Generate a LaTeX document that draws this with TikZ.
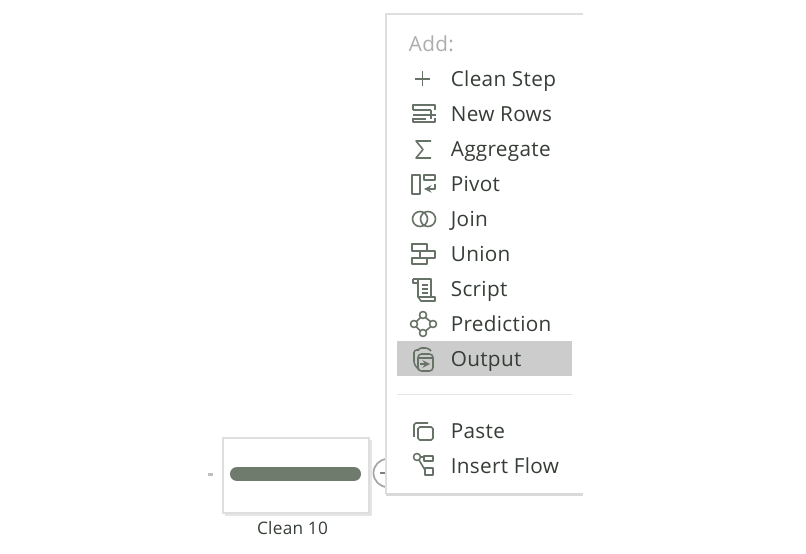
\documentclass[tikz,border=0pt]{standalone}
\usepackage{fontspec}
\setmainfont[LetterSpace=1.5]{Open Sans}
\usepackage{xcolor}
\definecolor{menutext}{HTML}{363D37}
\definecolor{menuicon}{HTML}{667366}
\definecolor{barcolor}{HTML}{6F7B6C}
\definecolor{edgegray}{HTML}{DEDEDE}
\tikzset{
  menuitem/.style={anchor=west,inner sep=0pt,text height=11pt,text depth=3pt,font=\fontsize{11.8}{13}\selectfont,text=menutext},
  icon/.style={draw=menuicon,line width=0.9pt,line join=round},
}
\begin{document}
\begin{tikzpicture}[x=0.02cm,y=-0.02cm]
\useasboundingbox (0,0) rectangle (806,554);

% step on the canvas
\fill[color=black!25] (208,473) rectangle (213,476);
\draw [line width=1.2pt, black!10] (225,514.5) -- (370.5,514.5) -- (370.5,440);
\draw [line width=1.4pt, edgegray] (223,438) rectangle (369,513);
\draw [line width=8pt, line cap=round, barcolor] (237,474) -- (354,474);
\node [anchor=base,inner sep=0pt,font=\fontsize{9.8}{12}\selectfont,text=menutext] (stepname) at (292.5,535) {Clean 10};
\draw [line width=1pt, black!35] (387.5,473) circle (14);
\draw [line width=0.8pt, black!50] (380,473) -- (394,473);

% menu panel, open on the right
\fill [white] (386,14) rectangle (583,494);
\draw [line width=0.8pt, edgegray] (583,14) -- (386,14) -- (386,494);
\draw [line width=1.2pt, black!15] (386,494.5) -- (583,494.5);
\fill [black!20] (397,341) rectangle (572,376);
\draw [line width=0.5pt, black!10] (397,394) -- (572,394);

\node [menuitem,text=black!32] (addtitle) at (408.5,44) {Add:};
\node [menuitem] (cleanstep) at (450.5,79) {Clean Step};
\node [menuitem] (newrows) at (450.5,114) {New Rows};
\node [menuitem] (aggregate) at (450.5,149) {Aggregate};
\node [menuitem] (pivot) at (450.5,184) {Pivot};
\node [menuitem] (join) at (450.5,219) {Join};
\node [menuitem] (union) at (450.5,254) {Union};
\node [menuitem] (script) at (450.5,289) {Script};
\node [menuitem] (prediction) at (450.5,324) {Prediction};
\node [menuitem] (output) at (450.5,359) {Output};
\node [menuitem] (paste) at (450.5,431) {Paste};
\node [menuitem] (insertflow) at (450.5,466) {Insert Flow};

% icons
\draw [icon] (415,79) -- (430,79) (422.5,71.5) -- (422.5,86.5);

\draw [icon] (413,110) -- (413,105) -- (435,105) -- (435,110);
\draw [icon] (413,110) -- (431,110) (413,115) -- (426,115);
\draw [icon] (413,118) -- (413,122) -- (435,122) -- (435,118) (413,119) -- (426,119);
\draw [icon] (426,115) -- (436,115) (431,110.5) -- (431,119.5);

\draw [icon] (431,141) -- (416,141) -- (423,149.5) -- (416,158) -- (431,158);

\draw [icon] (412,175) rectangle (420,194);
\draw [icon] (424,175) rectangle (435,180);
\draw [icon,->,>=stealth] (435,184) -- (435,189) -- (424,189);

\draw [icon] (420,219) circle (7.5);
\draw [icon] (428,219) circle (7.5);

\draw [icon] (412,244) rectangle (427,251);
\draw [icon] (420,251) rectangle (435,258);
\draw [icon] (412,258) rectangle (427,264);

\draw [icon] (413,279) -- (431,279) -- (431,296) (418,279) -- (418,297) -- (435,297) -- (435,301) -- (421,301) -- (418,297);
\draw [icon] (413,279) -- (413,283) -- (418,283);
\draw [icon] (422,285) -- (428,285) (422,289) -- (428,289) (422,293) -- (428,293);

\draw [icon] (423,315) circle (3.5);
\draw [icon] (414,324) circle (3.5);
\draw [icon] (433,324) circle (3.5);
\draw [icon] (423,333) circle (3.5);
\draw [icon] (425.5,317.5) -- (431,322) (420.5,317.5) -- (416,322) (416,326.5) -- (420.5,331) (431,326.5) -- (425.5,331);

\draw [icon,rounded corners=1.5pt] (419,350) -- (414,350) -- (414,364) -- (419,370);
\draw [icon,rounded corners=1.5pt] (418,350) -- (419,348) -- (428,348) -- (431,351);
\draw [icon,rounded corners=2pt] (418,354) rectangle (433,371);
\draw [icon] (418,358) -- (433,358);
\draw [icon,->,>=stealth] (420,364) -- (430,364);

\draw [icon,rounded corners=1pt] (414,437) -- (414,423) -- (428,423);
\draw [icon,rounded corners=1pt] (418,427) rectangle (433,440);

\draw [icon] (417,457) circle (3.5);
\draw [icon] (424,456) rectangle (433,461);
\draw [icon] (425,468) rectangle (433,475);
\draw [icon] (420.5,457) -- (424,457) (419,460) -- (425,470);
\end{tikzpicture}
\end{document}
